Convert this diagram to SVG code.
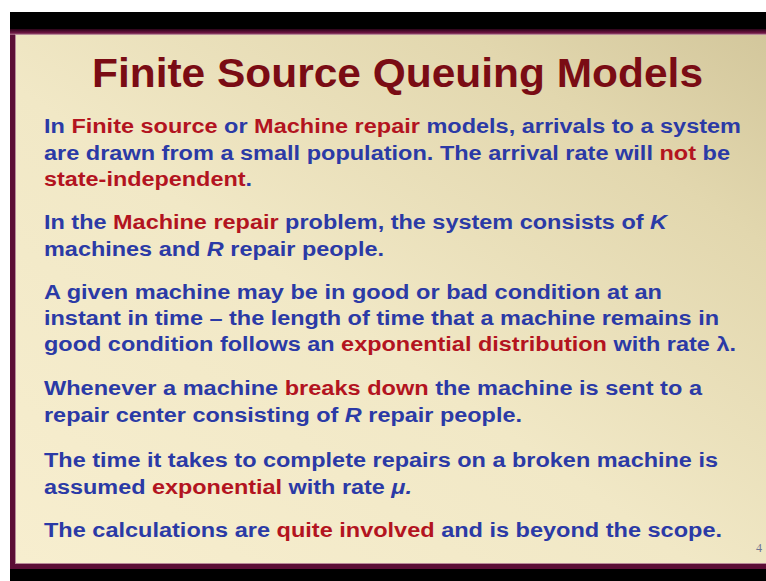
<svg xmlns="http://www.w3.org/2000/svg" width="766" height="581" viewBox="0 0 766 581">
  <defs>
    <linearGradient id="slideBg" x1="0" y1="1" x2="1" y2="0">
      <stop offset="0" stop-color="#f7eecf"/>
      <stop offset="0.45" stop-color="#f1e8c6"/>
      <stop offset="0.8" stop-color="#e2d7ae"/>
      <stop offset="1" stop-color="#d3c79c"/>
    </linearGradient>
    <linearGradient id="topEdge" x1="0" y1="0" x2="0" y2="1">
      <stop offset="0" stop-color="#2a0418"/>
      <stop offset="0.6" stop-color="#6a1440"/>
      <stop offset="1" stop-color="#a86a84"/>
    </linearGradient>
    <style>
      .title { font-family: "Liberation Sans", Arial, sans-serif; font-weight: bold; font-size: 40px; fill: #7a0c14; }
      .body { font-family: "Liberation Sans", Arial, sans-serif; font-weight: bold; font-size: 20px; fill: #2b3aa6; }
      .hl { fill: #b3141f; }
      .it { font-style: italic; }
      .pg { font-family: "Liberation Serif", "Times New Roman", serif; font-size: 12px; fill: #6c7392; }
    </style>
  </defs>

  <!-- frame: white surround, black bars, maroon slide border -->
  <rect x="0" y="0" width="766" height="581" fill="#ffffff"/>
  <rect x="10" y="12" width="756" height="569" fill="#000000"/>
  <rect x="10" y="29" width="756" height="540" fill="#5c0e36"/>
  <rect x="10" y="29" width="756" height="6" fill="url(#topEdge)"/>
  <rect x="15" y="34" width="751" height="530" fill="#b88a98"/>
  <rect x="16" y="35" width="750" height="528" fill="url(#slideBg)"/>

  <!-- title -->
  <g id="title">
    <text class="title" x="92" y="87" textLength="611" lengthAdjust="spacingAndGlyphs">Finite Source Queuing Models</text>
  </g>

  <!-- paragraph 1 -->
  <g id="para1">
    <text class="body" x="44" y="133" textLength="697" lengthAdjust="spacingAndGlyphs">In <tspan class="hl">Finite source</tspan> or <tspan class="hl">Machine repair</tspan> models, arrivals to a system</text>
    <text class="body" x="44" y="160" textLength="686" lengthAdjust="spacingAndGlyphs">are drawn from a small population. The arrival rate will <tspan class="hl">not</tspan> be</text>
    <text class="body" x="44" y="186" textLength="208" lengthAdjust="spacingAndGlyphs"><tspan class="hl">state-independent</tspan>.</text>
  </g>

  <!-- paragraph 2 -->
  <g id="para2">
    <text class="body" x="44" y="229" textLength="623" lengthAdjust="spacingAndGlyphs">In the <tspan class="hl">Machine repair</tspan> problem, the system consists of <tspan class="it">K</tspan></text>
    <text class="body" x="44" y="256" textLength="340" lengthAdjust="spacingAndGlyphs">machines and <tspan class="it">R</tspan> repair people.</text>
  </g>

  <!-- paragraph 3 -->
  <g id="para3">
    <text class="body" x="44" y="299" textLength="618" lengthAdjust="spacingAndGlyphs">A given machine may be in good or bad condition at an</text>
    <text class="body" x="44" y="325" textLength="675" lengthAdjust="spacingAndGlyphs">instant in time – the length of time that a machine remains in</text>
    <text class="body" x="44" y="351" textLength="692" lengthAdjust="spacingAndGlyphs">good condition follows an <tspan class="hl">exponential distribution</tspan> with rate λ.</text>
  </g>

  <!-- paragraph 4 -->
  <g id="para4">
    <text class="body" x="44" y="395" textLength="658" lengthAdjust="spacingAndGlyphs">Whenever a machine <tspan class="hl">breaks down</tspan> the machine is sent to a</text>
    <text class="body" x="44" y="422" textLength="478" lengthAdjust="spacingAndGlyphs">repair center consisting of <tspan class="it">R</tspan> repair people.</text>
  </g>

  <!-- paragraph 5 -->
  <g id="para5">
    <text class="body" x="44" y="467" textLength="674" lengthAdjust="spacingAndGlyphs">The time it takes to complete repairs on a broken machine is</text>
    <text class="body" x="44" y="494" textLength="368" lengthAdjust="spacingAndGlyphs">assumed <tspan class="hl">exponential</tspan> with rate <tspan class="it">μ.</tspan></text>
  </g>

  <!-- paragraph 6 -->
  <g id="para6">
    <text class="body" x="44" y="537" textLength="678" lengthAdjust="spacingAndGlyphs">The calculations are <tspan class="hl">quite involved</tspan> and is beyond the scope.</text>
  </g>

  <!-- slide number -->
  <g id="page-number">
    <text class="pg" x="756" y="552">4</text>
  </g>
</svg>
